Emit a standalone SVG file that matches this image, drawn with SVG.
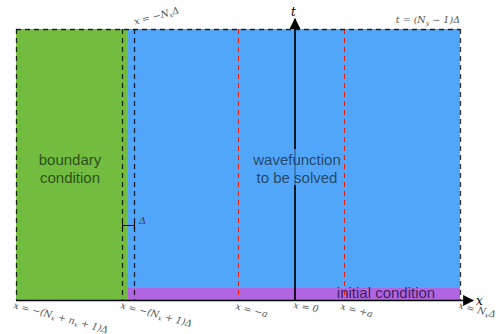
<svg xmlns="http://www.w3.org/2000/svg" width="500" height="334" viewBox="0 0 500 334">
<style>
.dash{stroke:#000;stroke-width:1.3;stroke-dasharray:5,4;fill:none;opacity:0.8}
.red{stroke:#e81e0c;stroke-width:1;stroke-dasharray:5,4;fill:none}
.math{font-family:"DejaVu Serif","Liberation Serif",serif;font-style:italic;font-size:9.5px;fill:#555}
.sub{font-size:6.5px}
.lbl{font-family:"Liberation Sans",Arial,sans-serif;font-size:15px;text-anchor:middle}
</style>
<defs>
<marker id="ah" viewBox="0 0 10 10" refX="9" refY="5" markerWidth="11" markerHeight="11" markerUnits="userSpaceOnUse" orient="auto">
<path d="M0,0 L10,5 L0,10 Z" fill="#000"/>
</marker>
</defs>
<g id="boundary">
<rect x="16" y="29" width="112" height="271" fill="#72bd40"/>
<text class="lbl" x="70" y="165" fill="#1e3a10" fill-opacity="0.85">boundary</text>
<text class="lbl" x="70" y="183" fill="#1e3a10" fill-opacity="0.85">condition</text>
</g>
<g id="wavefunction">
<rect x="128" y="29" width="332" height="271" fill="#52a6f9"/>
</g>
<g id="initial">
<rect x="128" y="288" width="332" height="12" fill="#b066e0"/>
</g>
<g id="connectors">
<path class="red" d="M238.5,29 V300"/>
<path class="red" d="M344.5,29 V300"/>
<path class="dash" d="M16,29.5 H460"/>
<path class="dash" d="M16.5,29 V300"/>
<path class="dash" d="M460.5,29 V300"/>
<path class="dash" d="M122.5,29 V300"/>
<path class="dash" d="M134.5,29 V300"/>
<path d="M295,300 V19" stroke="#000" stroke-width="1.7" marker-end="url(#ah)"/>
<path d="M16,300.5 H473" stroke="#000" stroke-width="1.7" marker-end="url(#ah)"/>
<path d="M122.5,225.5 H134.5 M122.5,222 V229 M134.5,222 V229" stroke="#000" stroke-width="1"/>
</g>
<g id="wavefunction-label">
<rect x="250" y="149" width="94" height="36" fill="#52a6f9" fill-opacity="0.7"/>
<text class="lbl" x="297" y="165" fill="#1a3650" fill-opacity="0.85">wavefunction</text>
<text class="lbl" x="297" y="183" fill="#1a3650" fill-opacity="0.85">to be solved</text>
</g>
<g id="initial-label">
<text class="lbl" x="386" y="298" fill="#2a1040" fill-opacity="0.85">initial condition</text>
</g>
<g id="labels">
<text class="math" x="139" y="224" style="font-size:10px;fill:#444">Δ</text>
<text class="math" x="291" y="16" style="font-size:12px;fill:#000">t</text>
<text class="math" x="476" y="305" style="font-size:12px;fill:#000">x</text>
<text class="math" x="460" y="23" text-anchor="end">t = (N<tspan class="sub" dy="2">y</tspan><tspan dy="-2"> − 1)Δ</tspan></text>
<text class="math" transform="translate(135,25) rotate(-15)">x = −N<tspan class="sub" dy="2">x</tspan><tspan dy="-2">Δ</tspan></text>
<text class="math" transform="translate(13,308) rotate(15)">x = −(N<tspan class="sub" dy="2">x</tspan><tspan dy="-2"> + n</tspan><tspan class="sub" dy="2">x</tspan><tspan dy="-2"> + 1)Δ</tspan></text>
<text class="math" transform="translate(120,308) rotate(15)">x = −(N<tspan class="sub" dy="2">x</tspan><tspan dy="-2"> + 1)Δ</tspan></text>
<text class="math" transform="translate(235,309) rotate(15)">x = −a</text>
<text class="math" transform="translate(293,308) rotate(10)">x = 0</text>
<text class="math" transform="translate(340,309) rotate(15)">x = +a</text>
<text class="math" transform="translate(458,308) rotate(15)">x = N<tspan class="sub" dy="2">x</tspan><tspan dy="-2">Δ</tspan></text>
</g>
</svg>
